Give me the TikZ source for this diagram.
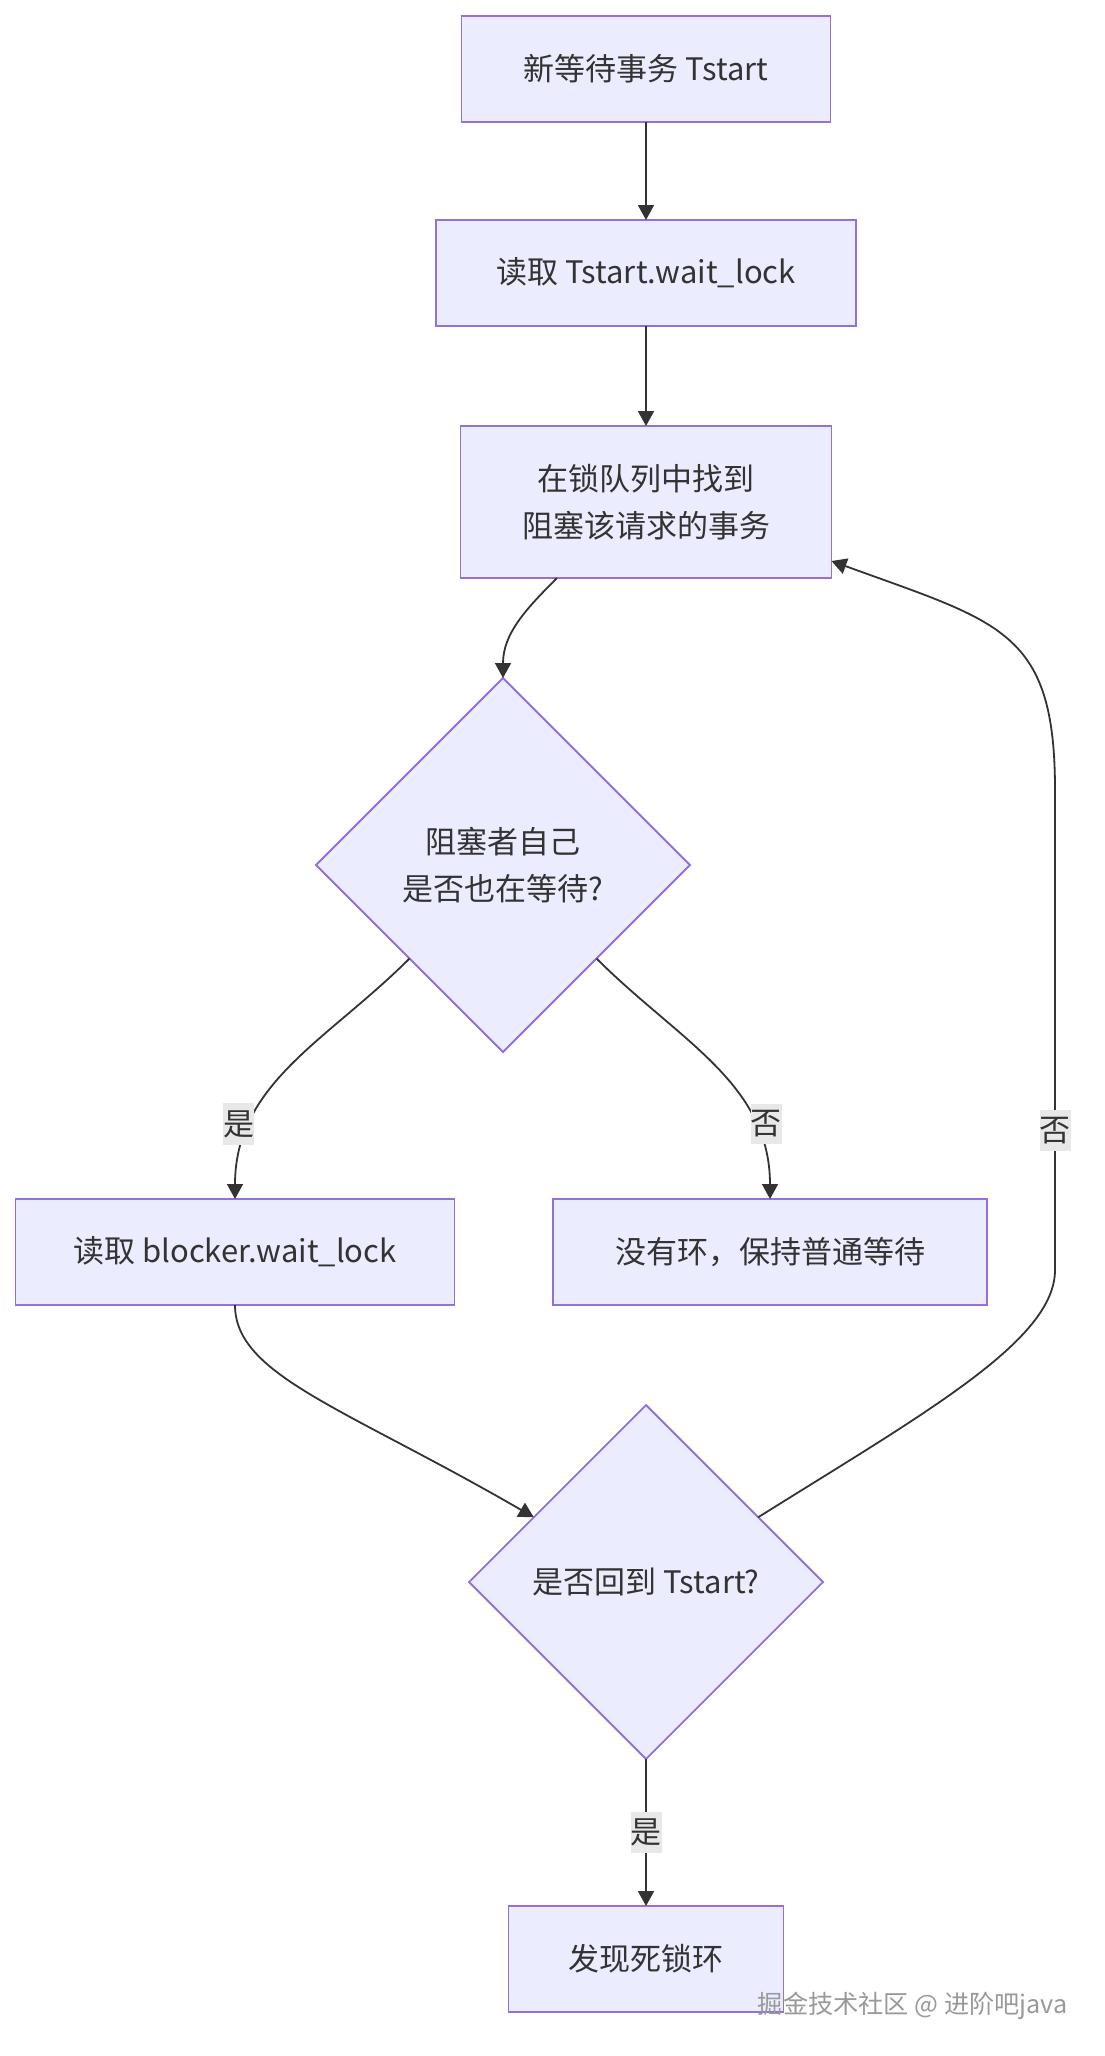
\documentclass[tikz,border=0pt]{standalone}
\usepackage{fontspec}
\setmainfont{Noto Sans CJK SC}
\usetikzlibrary{arrows.meta, shapes.geometric, positioning}
\definecolor{nodefill}{HTML}{ECECFF}
\definecolor{nodeline}{HTML}{9370DB}
\definecolor{edgeline}{HTML}{333333}
\definecolor{lblfill}{HTML}{E8E8E8}

\begin{document}
\begin{tikzpicture}[
    font = \fontsize{15.5pt}{23.5pt}\selectfont,
    text = edgeline,
    box/.style  = {draw=nodeline, line width=0.9pt, fill=nodefill, minimum width=#1,
                   minimum height=53pt, outer sep=0pt, align=center},
    dec/.style  = {diamond, aspect=1, draw=nodeline, line width=0.9pt, fill=nodefill,
                   minimum size=#1, inner sep=0pt, outer sep=0pt, align=center},
    arr/.style  = {-{Triangle[length=7.5pt, width=8pt]}, draw=edgeline, line width=0.9pt},
    lbl/.style  = {fill=lblfill, inner xsep=0pt, inner ysep=3.5pt},
]
\useasboundingbox (0,0) rectangle (552pt,-1028pt);

% Main column
\node[box=184.5pt] (new) at (323pt,-34.5pt) {新等待事务 Tstart};
\node[box=210pt, below=49pt of new] (read) {读取 Tstart.wait\_lock};
\node[box=185.5pt, minimum height=76pt, below=50pt of read] (find) {在锁队列中找到\\阻塞该请求的事务};
\node[dec=187pt, below=50pt of find, xshift=-71.5pt] (chk) {阻塞者自己\\是否也在等待?};

% Branches
\node[box=219.5pt, below=73.5pt of chk, xshift=-134pt] (blk)   {读取 blocker.wait\_lock};
\node[box=217pt,   below=73.5pt of chk, xshift=133.5pt] (nocyc) {没有环，保持普通等待};
\node[dec=177pt, below=50pt of blk, xshift=205.5pt] (back) {是否回到 Tstart?};
\node[box=137.5pt, below=73.5pt of back] (found) {发现死锁环};

% Loop corners
\coordinate (looplo) at (527.5pt,-635pt);
\coordinate (loophi) at (527.5pt,-395pt);

\draw[arr] (new)  -- (read);
\draw[arr] (read) -- (find);
\draw[arr] ([xshift=-44.5pt]find.south) to[out=-135, in=90] (chk.north);
\draw[arr] (chk.south west) to[out=-135, in=90] node[lbl, pos=0.75, xshift=-6pt]{是} (blk.north);
\draw[arr] (chk.south east) to[out=-45, in=90] node[lbl, pos=0.75, xshift=6pt]{否} (nocyc.north);
\draw[arr] (blk.south) .. controls +(0,-35pt) and +(-95pt,55pt) .. (back.150);
\draw[arr] (back.30) .. controls +(84.8pt,53pt) and +(0,-35pt) .. (looplo)
           -- node[lbl, pos=0.29]{否} (loophi)
           .. controls +(0,80pt) and +(84.5pt,-30.8pt) .. ([yshift=-29.5pt]find.east);
\draw[arr] (back) -- node[lbl]{是} (found);

% Watermark
\node[font=\fontsize{12.6pt}{14pt}\selectfont, text=black!40, anchor=east, inner sep=0pt] (mark)
    at (534pt,-1003pt) {掘金技术社区 @ 进阶吧java};

\end{tikzpicture}
\end{document}
